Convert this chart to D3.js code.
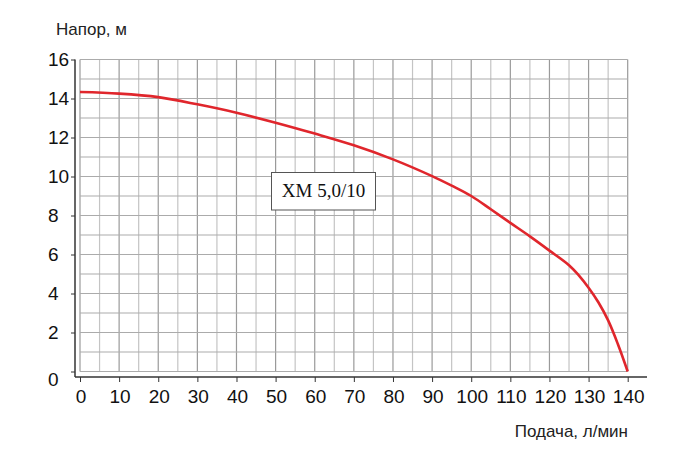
<!DOCTYPE html>
<html><head><meta charset="utf-8">
<script src="https://cdn.jsdelivr.net/npm/d3@7"></script>
<style>body{margin:0;background:#fff}svg{display:block}</style>
</head><body>
<svg id="c" width="700" height="462"></svg>
<script>
const flow = [0,10,20,30,40,50,60,70,80,90,95,100,105,110,115,120,125,127.5,130,132.5,135,137.5,140];
const head = [14.33,14.25,14.07,13.7,13.27,12.76,12.2,11.6,10.88,10.02,9.53,9.0,8.32,7.62,6.93,6.2,5.45,4.93,4.3,3.55,2.62,1.4,0];
const xTicks = [0,10,20,30,40,50,60,70,80,90,100,110,120,130,140];
const yTicks = [0,2,4,6,8,10,12,14,16];
const yLabel = "Напор, м";
const xLabel = "Подача, л/мин";
const modelLabel = "ХМ 5,0/10";

const SANS = "'Liberation Sans',Arial,sans-serif";
const SERIF = "'Liberation Serif','Times New Roman',serif";
const svg = d3.select("#c");
const x = d3.scaleLinear().domain([0,140]).range([80,627.7]);
const y = d3.scaleLinear().domain([0,16]).range([371.5,59.5]);

// grid
const g = svg.append("g");
d3.range(0,141,5).forEach(v=>{
  g.append("line").attr("x1",x(v)).attr("x2",x(v)).attr("y1",y(0)).attr("y2",y(16))
   .attr("stroke", v%10===0 ? "#9a9a9a" : "#c4c4c4").attr("stroke-width",1.2);
});
d3.range(0,17,1).forEach(v=>{
  g.append("line").attr("x1",x(0)).attr("x2",x(140)).attr("y1",y(v)).attr("y2",y(v))
   .attr("stroke", "#ababab").attr("stroke-width",1.2);
});

// axes
const axY = svg.append("g").attr("transform","translate(75,0)")
  .call(d3.axisLeft(y).tickValues(yTicks).tickSize(4).tickFormat(""));
axY.select(".domain").attr("d","M0,"+y(16)+"V377").attr("stroke","#333").attr("stroke-width",1.5);
axY.selectAll(".tick line").attr("stroke","#333");
const axX = svg.append("g").attr("transform","translate(0,377)")
  .call(d3.axisBottom(x).tickValues(xTicks).tickSize(5).tickFormat(""));
axX.select(".domain").attr("d","M75,0H647").attr("stroke","#333").attr("stroke-width",1.5);
axX.selectAll(".tick line").attr("stroke","#333");

// tick labels
svg.append("g").selectAll("text").data(yTicks).join("text")
  .attr("x",48).attr("y",d=> d===0 ? 379 : y(d)).attr("dy","0.35em")
  .style("font-family",SANS).attr("font-size",19).attr("fill","#111").text(d=>d);
svg.append("g").selectAll("text").data(xTicks).join("text")
  .attr("x",d=>x(d)+1).attr("y",396).attr("dy","0.35em").attr("text-anchor","middle")
  .style("font-family",SANS).attr("font-size",19).attr("fill","#111").text(d=>d);

// axis titles
svg.append("text").attr("x",56).attr("y",35).style("font-family",SANS).attr("font-size",17).attr("fill","#222").text(yLabel);
svg.append("text").attr("x",628).attr("y",437).attr("text-anchor","end").style("font-family",SANS).attr("font-size",17).attr("fill","#222").text(xLabel);

// curve
const line = d3.line().x((d,i)=>x(flow[i])).y(d=>y(d)).curve(d3.curveCatmullRom.alpha(0.5));
svg.append("path").datum(head).attr("d",line).attr("fill","none")
  .attr("stroke","#e0262c").attr("stroke-width",2.6);

// label box
svg.append("rect").attr("x",271.5).attr("y",172.5).attr("width",104).attr("height",37.5)
  .attr("fill","#fff").attr("stroke","#555").attr("stroke-width",1);
svg.append("text").attr("x",323.5).attr("y",197).attr("text-anchor","middle")
  .style("font-family",SERIF).attr("font-size",19)
  .attr("fill","#111").text(modelLabel);
</script>
</body></html>
